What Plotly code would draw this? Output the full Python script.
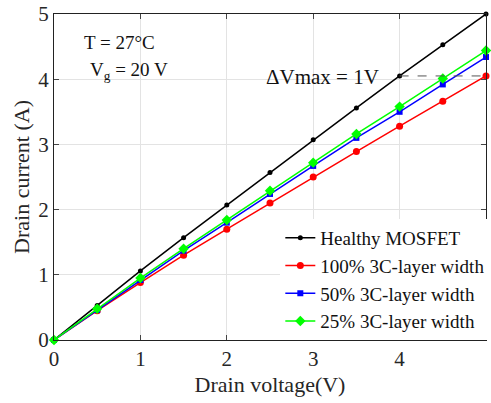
import plotly.graph_objects as go

vd = [0, 0.5, 1, 1.5, 2, 2.5, 3, 3.5, 4, 4.5, 5]
healthy = [0, 0.53, 1.06, 1.57, 2.07, 2.57, 3.07, 3.56, 4.05, 4.53, 5.0]
w100 = [0, 0.45, 0.88, 1.30, 1.70, 2.10, 2.50, 2.89, 3.28, 3.66, 4.05]
w50 = [0, 0.46, 0.92, 1.37, 1.80, 2.24, 2.67, 3.10, 3.50, 3.92, 4.34]
w25 = [0, 0.48, 0.95, 1.40, 1.84, 2.29, 2.72, 3.16, 3.58, 4.01, 4.44]
names = ["Healthy MOSFET", "100% 3C-layer width", "50% 3C-layer width", "25% 3C-layer width"]
colors = ["#000000", "#ff0000", "#0000ff", "#00ff00"]
symbols = ["circle", "circle", "square", "diamond"]
msizes = [5, 7, 6, 8]

fig = go.Figure()
for y, n, c, s, ms in zip([healthy, w100, w50, w25], names, colors, symbols, msizes):
    fig.add_trace(go.Scatter(x=vd, y=y, name=n, mode="lines+markers",
                             line=dict(color=c, width=1.5), cliponaxis=False,
                             marker=dict(color=c, symbol=s, size=ms)))

fig.add_trace(go.Scatter(x=[vd[8], vd[10]], y=[healthy[8], w100[10]], mode="lines",
                         line=dict(color="#555555", width=1, dash="dash"),
                         showlegend=False, hoverinfo="skip"))

font = "Liberation Serif, Times New Roman, serif"
fig.update_layout(
    width=491, height=403,
    margin=dict(l=54, r=5, t=14, b=63, autoexpand=False),
    plot_bgcolor="white", paper_bgcolor="white",
    font=dict(family=font, size=21, color="#262626"),
    showlegend=True,
    legend=dict(x=1.01, y=0.0, xanchor="right", yanchor="bottom",
                bgcolor="white", font=dict(size=19, color="#111111"),
                tracegroupgap=0, itemwidth=30, borderwidth=0),
    xaxis=dict(range=[0, 5], dtick=1, showgrid=True, gridcolor="#e3e3e3",
               showline=True, linecolor="#222222", mirror="ticks", ticks="inside",
               ticklen=5, zeroline=False, automargin=False,
               title=dict(text="Drain voltage(V)", font=dict(size=22), standoff=6)),
    yaxis=dict(range=[0, 5], dtick=1, showgrid=True, gridcolor="#e3e3e3",
               showline=True, linecolor="#222222", mirror="ticks", ticks="inside",
               ticklen=5, zeroline=False, automargin=False,
               title=dict(text="Drain current (A)", font=dict(size=22), standoff=2)),
    annotations=[
        dict(x=0.32, y=4.57, xref="x", yref="y", text="T = 27°C", showarrow=False,
             xanchor="left", font=dict(size=19, color="#111111")),
        dict(x=0.39, y=4.12, xref="x", yref="y", text="V<sub>g</sub> = 20 V", showarrow=False,
             xanchor="left", font=dict(size=19, color="#111111")),
        dict(x=2.435, y=4.03, xref="x", yref="y", text="ΔVmax = 1V", showarrow=False,
             xanchor="left", font=dict(size=21, color="#111111")),
    ],
)
fig.write_html("out.html", config={"displayModeBar": False},
               post_script="document.body.style.margin='0';document.body.style.padding='0';")
